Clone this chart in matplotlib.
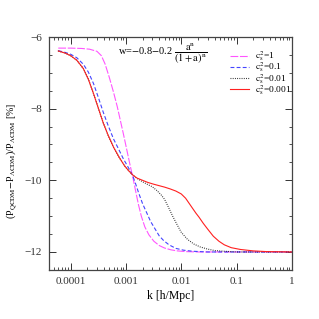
import matplotlib
matplotlib.use('Agg')
import matplotlib.pyplot as plt
from matplotlib.ticker import FixedLocator, FuncFormatter, MultipleLocator, LogLocator, NullFormatter

# c_s^2 = 1
k_c1 = [6e-5, 1e-4, 1.6e-4, 2.2e-4, 3.0e-4, 3.6e-4, 4.2e-4, 5.0e-4, 6.0e-4, 7.0e-4,
        8.0e-4, 9.0e-4, 1.0e-3, 1.1e-3, 1.2e-3, 1.35e-3, 1.5e-3, 1.7e-3, 1.9e-3,
        2.2e-3, 2.6e-3, 3.2e-3, 4.0e-3, 5.0e-3, 6.5e-3, 8.5e-3, 1.2e-2, 2e-2, 0.1, 1.0]
p_c1 = [-6.31, -6.31, -6.32, -6.34, -6.4, -6.52, -6.75, -7.12, -7.55, -7.95,
        -8.35, -8.7, -9.03, -9.33, -9.6, -9.95, -10.3, -10.7, -11.0,
        -11.3, -11.52, -11.7, -11.82, -11.89, -11.94, -11.97, -11.99, -12.0, -12.0, -12.0]

# c_s^2 = 0.1
k_c01 = [6e-5, 8e-5, 1e-4, 1.3e-4, 1.7e-4, 2.1e-4, 2.6e-4, 3.2e-4, 3.9e-4, 4.8e-4,
         6e-4, 7.5e-4, 9e-4, 1.05e-3, 1.2e-3, 1.35e-3, 1.5e-3, 1.7e-3, 2.0e-3, 2.4e-3,
         2.8e-3, 3.2e-3, 4.0e-3, 4.8e-3, 6.0e-3, 8.0e-3, 1.1e-2, 1.6e-2, 3e-2, 1.0]
p_c01 = [-6.38, -6.43, -6.48, -6.58, -6.76, -6.98, -7.3, -7.7, -8.1, -8.48,
         -8.85, -9.15, -9.4, -9.58, -9.74, -9.9, -10.1, -10.35, -10.65, -10.92,
         -11.15, -11.3, -11.55, -11.68, -11.8, -11.9, -11.95, -11.98, -12.0, -12.0]

# c_s^2 = 0.01
k_c001 = [6e-5, 8e-5, 1e-4, 1.3e-4, 1.7e-4, 2.1e-4, 2.6e-4, 3.2e-4, 3.9e-4, 4.8e-4,
          6e-4, 7.5e-4, 9.5e-4, 1.15e-3, 1.35e-3, 1.6e-3, 2.0e-3, 2.5e-3, 3.0e-3,
          3.6e-3, 4.3e-3, 5.0e-3, 6.0e-3, 7.0e-3, 8.5e-3, 1.0e-2, 1.3e-2, 1.7e-2,
          2.2e-2, 3.0e-2, 4.0e-2, 6e-2, 0.1, 1.0]
p_c001 = [-6.39, -6.45, -6.52, -6.65, -6.88, -7.18, -7.58, -8.0, -8.4, -8.75,
          -9.08, -9.35, -9.6, -9.75, -9.86, -9.95, -10.04, -10.12, -10.18,
          -10.28, -10.4, -10.53, -10.78, -11.0, -11.25, -11.45, -11.65, -11.78,
          -11.86, -11.92, -11.96, -11.98, -12.0, -12.0]

# c_s^2 = 0.001
k_c0001 = [6e-5, 8e-5, 1e-4, 1.3e-4, 1.7e-4, 2.1e-4, 2.6e-4, 3.2e-4, 3.9e-4, 4.8e-4,
           6e-4, 7.5e-4, 9.5e-4, 1.15e-3, 1.35e-3, 1.6e-3, 2.0e-3, 2.5e-3, 3.2e-3,
           4.0e-3, 5.0e-3, 6.3e-3, 8.0e-3, 1.0e-2, 1.2e-2, 1.4e-2, 1.6e-2, 1.85e-2,
           2.1e-2, 2.5e-2, 3.0e-2, 3.8e-2, 4.8e-2, 6.0e-2, 8.0e-2, 0.117, 0.2, 0.35, 1.0]
p_c0001 = [-6.39, -6.45, -6.52, -6.65, -6.88, -7.18, -7.58, -8.0, -8.4, -8.75,
           -9.08, -9.35, -9.6, -9.75, -9.86, -9.94, -10.0, -10.06, -10.11,
           -10.15, -10.19, -10.24, -10.3, -10.38, -10.5, -10.65, -10.78, -10.92,
           -11.03, -11.2, -11.36, -11.56, -11.7, -11.8, -11.88, -11.93, -11.97, -11.99, -12.0]

x_ticks = [1e-4, 1e-3, 1e-2, 1e-1, 1]
x_tick_labels = ['0.0001', '0.001', '0.01', '0.1', '1']
y_ticks = [-12, -10, -8, -6]

plt.rcParams['font.family'] = ['Liberation Serif']
plt.rcParams['mathtext.fontset'] = 'stix'

fig = plt.figure(figsize=(3.19, 3.19), dpi=100)
ax = fig.add_axes([0.154, 0.154, 0.761, 0.73])

ax.plot(k_c1, p_c1, color='#ff55ff', lw=0.8, dashes=(7, 1.5), label=r'$\mathrm{c_s^2}$=1')
ax.plot(k_c01, p_c01, color='#4444ff', lw=0.8, dashes=(3.5, 2), label=r'$\mathrm{c_s^2}$=0.1')
ax.plot(k_c001, p_c001, color='#222222', lw=0.8, dashes=(0.8, 1.2), label=r'$\mathrm{c_s^2}$=0.01')
ax.plot(k_c0001, p_c0001, color='#ff2020', lw=0.8, label=r'$\mathrm{c_s^2}$=0.001')

ax.set_xscale('log')
ax.set_xlim(4.1e-5, 1.0)
ax.set_ylim(-12.5, -6)

ax.xaxis.set_major_locator(FixedLocator(x_ticks))
ax.xaxis.set_major_formatter(FuncFormatter(lambda v, pos: x_tick_labels[x_ticks.index(v)] if v in x_ticks else ''))
ax.xaxis.set_minor_locator(LogLocator(base=10, subs=range(2, 10), numticks=20))
ax.xaxis.set_minor_formatter(NullFormatter())
ax.yaxis.set_major_locator(FixedLocator(y_ticks))
ax.yaxis.set_major_formatter(FuncFormatter(lambda v, pos: '\u2212%d' % abs(v)))
ax.yaxis.set_minor_locator(MultipleLocator(0.5))

ax.tick_params(which='both', direction='in', top=True, right=True, labelsize=8, colors='#333333')
ax.tick_params(which='major', length=5, width=0.7, pad=5)
ax.tick_params(which='minor', length=2.5, width=0.6)
for s in ax.spines.values():
    s.set_linewidth(0.9)
    s.set_color('#444444')

ax.set_xlabel('k [h/Mpc]', fontsize=8.5, labelpad=3)
ax.set_ylabel(r'(P$_\mathrm{QCDM}$$-$P$_{\Lambda\mathrm{CDM}}$)/P$_{\Lambda\mathrm{CDM}}$ [%]',
              fontsize=7.2)
ax.yaxis.set_label_coords(-0.125, 0.47)

ax.text(0.284, 0.93, r'w=$-$0.8$-$0.2 $\dfrac{\mathrm{a^n}}{\mathrm{(1+a)^n}}$',
        transform=ax.transAxes, fontsize=7.5, va='center', ha='left')

ax.legend(loc='upper right', bbox_to_anchor=(1.025, 0.975), frameon=False, fontsize=6.8,
          handlelength=2.1, handletextpad=0.6, labelspacing=-0.28, borderpad=0.2)

fig.savefig('out.png', dpi=100)
